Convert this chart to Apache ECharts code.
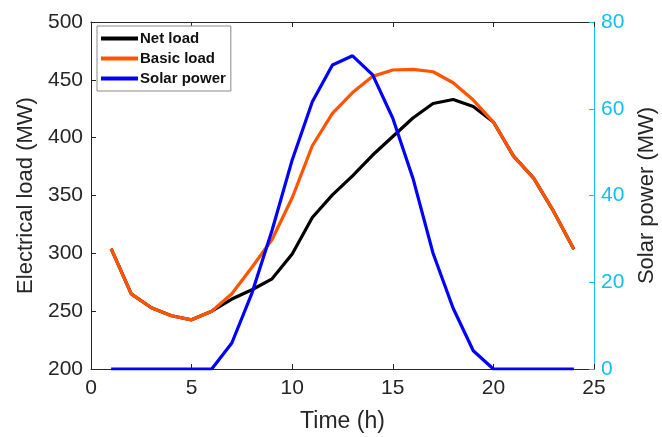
<!DOCTYPE html>
<html>
<head>
<meta charset="utf-8">
<script src="https://cdn.jsdelivr.net/npm/echarts@6/dist/echarts.min.js"></script>
<style>
  html, body { margin: 0; padding: 0; background: #fff; }
  #chart { width: 662px; height: 437px; }
</style>
</head>
<body>
<div id="chart"></div>
<script>
// hours 1..24
var hours = [1, 2, 3, 4, 5, 6, 7, 8, 9, 10, 11, 12, 13, 14, 15, 16, 17, 18, 19, 20, 21, 22, 23, 24];
var netLoad = [304, 265, 253, 246, 242.5, 250, 260.5, 268.5, 278, 299.5, 331, 350.5, 367, 385, 401, 417, 429.5, 433, 427, 413.5, 384, 365, 336, 303.5];
var basicLoad = [304, 265, 253, 246, 242.5, 250, 265, 288, 312, 348, 393, 421, 439, 453, 458.5, 459, 457, 447.5, 432.5, 413.5, 384, 365, 336, 303.5];
var solarPower = [0, 0, 0, 0, 0, 0, 6, 17.5, 32, 48.2, 61.6, 70.1, 72.2, 67.8, 57.8, 44, 26.7, 14, 4.2, 0, 0, 0, 0, 0];

var FONT = 'Liberation Sans, Arial, sans-serif';
var CYAN = '#12BEEE';
var ORANGE = '#FF5500';
var INK = '#262626';

function pairs(xs, ys) {
    return xs.map(function(x, i) { return [x, ys[i]]; });
}

var chart = echarts.init(document.getElementById('chart'));

var option = {
    animation: false,
    grid: { left: 91, right: 68, top: 22, bottom: 68, outerBoundsMode: 'none', containLabel: false },
    legend: {
        orient: 'vertical',
        left: 97,
        top: 26,
        padding: [5, 5, 5, 4],
        itemGap: 5,
        itemWidth: 37,
        itemHeight: 4,
        icon: 'rect',
        backgroundColor: '#fff',
        borderColor: '#8a8a8a',
        borderWidth: 1,
        borderRadius: 0,
        textStyle: { fontFamily: FONT, fontSize: 15, fontWeight: 'bold', color: '#111', padding: [0, 0, 0, -3] },
        data: ['Net load', 'Basic load', 'Solar power']
    },
    xAxis: [{
        type: 'value',
        min: 0, max: 25, interval: 5,
        name: 'Time (h)',
        nameLocation: 'middle',
        nameGap: 41,
        nameTextStyle: { fontFamily: FONT, fontSize: 23, color: INK },
        axisLine: { show: true, onZero: false, lineStyle: { color: INK, width: 1 } },
        axisTick: { show: true, inside: true, length: 5, lineStyle: { color: INK } },
        axisLabel: { fontFamily: FONT, fontSize: 21, color: INK, margin: 9 },
        splitLine: { show: false }
    }, {
        type: 'value',
        position: 'top',
        min: 0, max: 25, interval: 5,
        axisLine: { show: true, onZero: false, lineStyle: { color: INK, width: 1 } },
        axisTick: { show: true, inside: true, length: 5, lineStyle: { color: INK } },
        axisLabel: { show: false },
        splitLine: { show: false }
    }],
    yAxis: [{
        type: 'value',
        position: 'left',
        min: 200, max: 500, interval: 50,
        name: 'Electrical load (MW)',
        nameLocation: 'middle',
        nameGap: 50,
        nameTextStyle: { fontFamily: FONT, fontSize: 22, color: INK },
        axisLine: { show: true, onZero: false, lineStyle: { color: INK, width: 1 } },
        axisTick: { show: true, inside: true, length: 5, lineStyle: { color: INK } },
        axisLabel: { fontFamily: FONT, fontSize: 21, color: INK, margin: 8 },
        splitLine: { show: false }
    }, {
        type: 'value',
        position: 'right',
        alignTicks: false,
        min: 0, max: 80, interval: 20,
        name: 'Solar power (MW)',
        nameLocation: 'middle',
        nameGap: 42,
        nameRotate: 90,
        nameTextStyle: { fontFamily: FONT, fontSize: 22, color: INK },
        axisLine: { show: true, onZero: false, lineStyle: { color: CYAN, width: 1 } },
        axisTick: { show: true, inside: true, length: 5, lineStyle: { color: CYAN } },
        axisLabel: { fontFamily: FONT, fontSize: 21, color: CYAN, margin: 7 },
        splitLine: { show: false }
    }],
    series: [{
        name: 'Net load',
        type: 'line',
        xAxisIndex: 0, yAxisIndex: 0,
        data: pairs(hours, netLoad),
        showSymbol: false,
        color: '#000',
        lineStyle: { width: 3.2, color: '#000' },
        z: 3
    }, {
        name: 'Basic load',
        type: 'line',
        xAxisIndex: 0, yAxisIndex: 0,
        data: pairs(hours, basicLoad),
        showSymbol: false,
        color: ORANGE,
        lineStyle: { width: 3.2, color: ORANGE },
        z: 4
    }, {
        name: 'Solar power',
        type: 'line',
        xAxisIndex: 0, yAxisIndex: 1,
        data: pairs(hours, solarPower),
        showSymbol: false,
        color: '#0000FF',
        lineStyle: { width: 3.2, color: '#0000FF' },
        z: 5
    }]
};

chart.setOption(option);
</script>
</body>
</html>
